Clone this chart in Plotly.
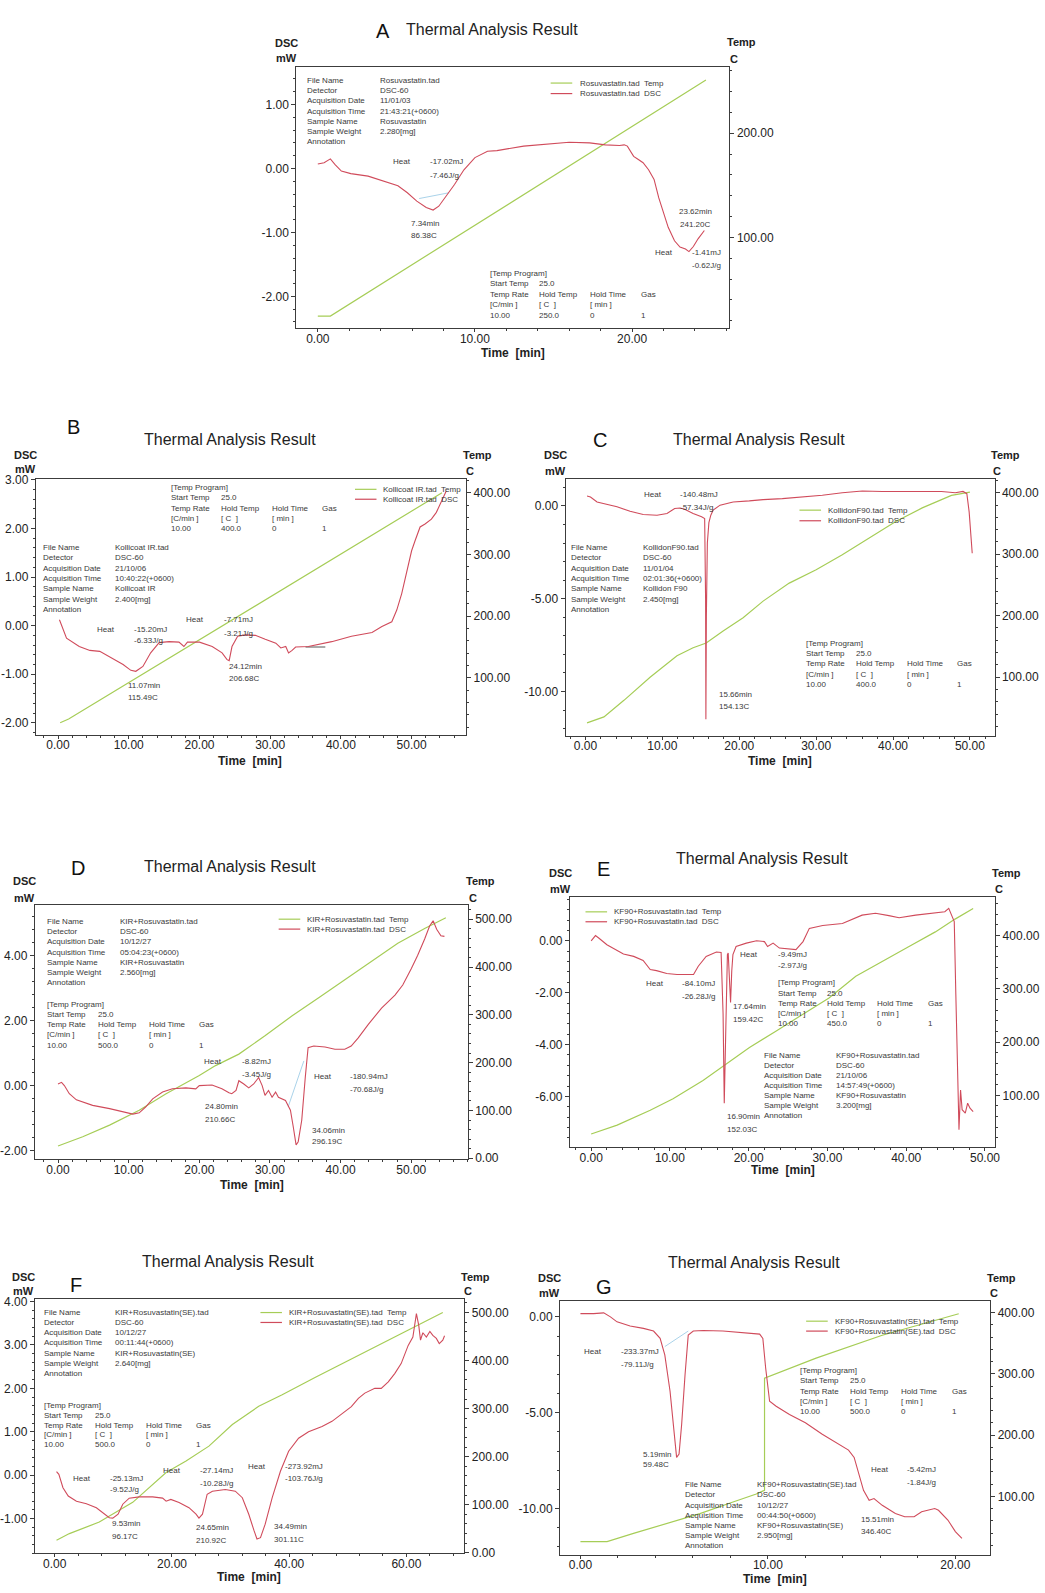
import math
import plotly.graph_objects as go

W, H = 1045, 1593
FONT = "Liberation Sans, Arial, sans-serif"
GREEN = "#a6cd57"
RED = "#d04b5b"
BLUE = "#aad3ea"
AXC = "#3c3c3c"
TXT = "#3a3a3a"

# ---------------- data ----------------
# Panel A: Rosuvastatin
A_time = [0.0, 0.4, 0.8, 1.1, 1.5, 2.1, 3.2, 4.2, 5.1, 5.7, 6.3, 6.9, 7.34, 7.7, 8.1, 8.7, 9.3, 10.0, 10.8, 11.4,
          13.1, 14.7, 16.0, 17.3, 18.3, 19.2, 19.5, 19.7, 19.9, 20.1, 20.4, 20.7, 21.05, 21.4, 21.7, 22.0, 22.3,
          22.7, 23.05, 23.4, 23.62, 23.9, 24.2, 24.6]
A_dsc = [0.07, 0.09, 0.15, 0.06, -0.04, -0.08, -0.12, -0.20, -0.27, -0.38, -0.51, -0.61, -0.65, -0.59, -0.46,
         -0.25, -0.02, 0.17, 0.27, 0.28, 0.35, 0.38, 0.41, 0.40, 0.37, 0.36, 0.37, 0.35, 0.27, 0.19, 0.14, 0.09,
         -0.02, -0.17, -0.46, -0.69, -0.92, -1.13, -1.23, -1.26, -1.30, -1.22, -1.10, -0.97]
A_temp_time = [0.0, 0.8, 24.7]
A_temp = [24.5, 24.5, 251.0]
A_base_time = [6.45, 8.34]
A_base_dsc = [-0.47, -0.38]

# Panel B: Kollicoat IR
B_time = [0.2, 1.2, 3.0, 4.5, 5.9, 7.7, 9.2, 10.3, 11.0, 12.0, 13.1, 14.3, 15.7, 17.1, 17.8, 18.3, 20.0, 21.8,
          23.2, 23.9, 24.2, 24.6, 25.4, 26.5, 27.9, 29.3, 30.8, 31.5, 32.2, 32.6, 33.1, 33.6, 35.4, 38.7, 41.5,
          44.4, 45.8, 47.2, 47.9, 48.6, 49.1, 50.0, 50.5, 51.2, 51.9, 52.8, 53.5, 54.2, 54.9]
B_dsc = [0.12, -0.26, -0.43, -0.51, -0.53, -0.67, -0.80, -0.92, -0.94, -0.84, -0.56, -0.35, -0.33, -0.34, -0.43,
         -0.34, -0.34, -0.43, -0.56, -0.70, -0.72, -0.43, -0.22, -0.19, -0.20, -0.28, -0.36, -0.46, -0.43, -0.56,
         -0.51, -0.44, -0.43, -0.33, -0.22, -0.14, -0.02, 0.08, 0.32, 0.66, 1.00, 1.54, 1.75, 2.03, 2.09, 2.19,
         2.33, 2.56, 2.77]
B_temp_time = [0.3, 1.5, 54.3]
B_temp = [27.0, 33.0, 400.0]
B_mark_time = [35.0, 37.8]
B_mark_dsc = [-0.44, -0.44]

# Panel C: Kollidon F90
C_time = [0.2, 0.65, 1.5, 2.4, 4.1, 5.8, 7.5, 9.3, 10.6, 11.6, 12.3, 12.9, 14.0, 15.1, 15.5, 15.62, 15.66, 15.72,
          15.85, 16.05, 16.3, 16.6, 17.5, 19.2, 21.3, 23.1, 25.6, 28.2, 30.8, 33.4, 36.0, 38.6, 41.2, 43.8, 46.3,
          48.1, 49.1, 49.6, 49.9, 50.3]
C_dsc = [0.53, 0.48, 0.21, 0.12, -0.05, -0.29, -0.46, -0.50, -0.41, -0.14, -0.11, -0.18, -0.41, -0.59, -0.68,
         -5.0, -11.5, -6.0, -2.0, -0.9, -0.5, -0.23, 0.04, 0.21, 0.27, 0.34, 0.39, 0.48, 0.57, 0.71, 0.80, 0.78,
         0.78, 0.80, 0.78, 0.71, 0.78, 0.66, -0.32, -2.55]
C_temp_time = [0.2, 2.4, 5.0, 8.4, 11.9, 14.0, 15.7, 17.9, 20.5, 23.1, 26.5, 30.0, 33.4, 36.9, 40.3, 43.8, 47.6, 50.0]
C_temp = [25.8, 35.5, 62.4, 100.0, 135.0, 148.0, 155.5, 175.3, 196.8, 223.7, 253.0, 274.8, 299.0, 325.8, 352.7,
          375.3, 395.6, 401.0]

# Panel D: KIR + Rosuvastatin
D_time = [0.0, 0.5, 0.9, 1.6, 2.6, 4.9, 7.3, 9.2, 10.6, 11.5, 12.4, 13.4, 14.8, 16.2, 18.1, 19.5, 20.0, 21.8, 23.2,
          24.2, 24.6, 25.2, 25.6, 26.3, 27.0, 27.7, 28.4, 28.9, 29.3, 29.8, 30.3, 30.8, 31.2, 32.2, 32.9, 33.3,
          33.7, 34.0, 34.5, 35.0, 35.4, 36.2, 37.8, 39.2, 40.6, 41.5, 42.5, 43.9, 45.8, 47.7, 48.8, 50.0, 50.9,
          51.9, 52.6, 53.1, 53.6, 54.2, 54.7]
D_dsc = [0.05, 0.10, 0.00, -0.25, -0.44, -0.61, -0.71, -0.81, -0.88, -0.84, -0.66, -0.41, -0.20, -0.10, -0.07,
         -0.10, 0.00, 0.02, -0.10, -0.22, -0.25, -0.15, 0.15, 0.05, -0.07, 0.05, 0.25, 0.00, -0.30, -0.15, -0.36,
         -0.20, -0.36, -0.46, -0.76, -1.27, -1.83, -1.73, -1.07, 0.25, 1.17, 1.22, 1.19, 1.12, 1.12, 1.22, 1.47,
         1.88, 2.39, 2.79, 3.10, 3.60, 4.01, 4.52, 4.92, 5.08, 4.82, 4.62, 4.60]
D_temp_time = [0.0, 3.5, 7.3, 11.5, 15.3, 20.0, 22.3, 25.6, 29.3, 33.1, 36.9, 40.6, 44.4, 48.1, 51.9, 54.9]
D_temp = [25.7, 45.0, 69.3, 100.4, 135.0, 173.0, 193.8, 217.8, 256.0, 297.5, 335.5, 373.4, 411.6, 449.6, 480.7, 502.9]
D_base_time = [32.6, 34.8]
D_base_dsc = [-0.64, 0.76]

# Panel E: KF90 + Rosuvastatin
E_time = [0.0, 0.55, 1.0, 2.0, 4.1, 5.4, 6.6, 7.5, 8.3, 9.6, 10.9, 13.0, 13.6, 14.6, 15.9, 16.5, 16.75, 16.9, 17.1,
          17.3, 17.4, 17.6, 17.7, 17.85, 18.0, 18.4, 19.7, 21.0, 22.0, 22.4, 23.1, 23.9, 25.2, 26.0, 26.9, 27.7,
          29.4, 31.9, 34.4, 36.1, 37.8, 39.1, 41.2, 43.3, 44.9, 45.4, 45.8, 46.1, 46.3, 46.5, 46.7, 46.9, 47.1,
          47.5, 47.8, 48.1, 48.5]
E_dsc = [0.0, 0.20, 0.10, -0.15, -0.51, -0.60, -0.76, -1.11, -1.15, -1.26, -1.30, -1.30, -0.98, -0.60, -0.43,
         -0.45, -2.82, -6.26, -3.33, -0.53, -0.47, -1.80, -2.38, -1.17, -0.53, -0.22, -0.09, 0.0, -0.03, -0.22,
         -0.09, -0.28, -0.31, -0.34, -0.03, 0.48, 0.59, 0.67, 0.99, 1.06, 0.97, 0.89, 0.99, 1.06, 1.12, 1.25, 0.97,
         0.74, -2.06, -4.60, -7.28, -5.75, -6.51, -6.64, -6.26, -6.45, -6.58]
E_temp_time = [0.0, 3.3, 7.5, 10.4, 14.2, 16.8, 20.1, 23.5, 26.9, 30.2, 33.6, 37.0, 40.3, 43.7, 46.2, 48.5]
E_temp = [27.4, 44.0, 72.0, 93.7, 128.0, 156.0, 190.0, 221.0, 252.0, 283.0, 323.5, 351.0, 379.0, 407.0, 431.0, 451.0]

# Panel F: KIR + Rosuvastatin (SE)
F_time = [0.3, 0.7, 1.4, 2.3, 3.7, 5.4, 7.1, 8.2, 9.3, 9.9, 10.8, 11.6, 12.7, 14.4, 16.7, 18.4, 19.0, 19.8, 21.2,
          22.9, 24.1, 24.6, 25.2, 26.0, 26.9, 29.1, 30.8, 32.0, 33.1, 34.0, 34.5, 35.1, 35.9, 37.1, 38.5, 39.9,
          41.6, 43.3, 45.6, 47.3, 49.5, 50.6, 51.8, 52.9, 54.6, 55.7, 56.9, 58.0, 59.1, 60.3, 61.1, 61.7, 62.1,
          62.4, 62.8, 63.4, 64.0, 64.5, 65.1, 65.6, 66.2, 66.5]
F_dsc = [0.08, 0.02, -0.29, -0.48, -0.60, -0.66, -0.75, -0.86, -0.98, -0.99, -0.90, -0.67, -0.53, -0.50, -0.50,
         -0.53, -0.60, -0.56, -0.63, -0.75, -0.90, -0.99, -0.90, -0.44, -0.37, -0.33, -0.37, -0.52, -0.90, -1.28,
         -1.47, -1.44, -1.13, -0.52, 0.09, 0.55, 0.85, 1.00, 1.12, 1.24, 1.47, 1.58, 1.77, 1.89, 2.00, 2.00, 2.15,
         2.34, 2.57, 2.99, 3.18, 3.72, 3.45, 3.11, 3.28, 3.18, 3.31, 3.22, 3.15, 3.03, 3.11, 3.21]
F_temp_time = [0.3, 2.5, 7.6, 13.3, 19.0, 22.4, 26.3, 30.3, 34.8, 38.8, 44.4, 50.1, 55.7, 61.4, 66.2]
F_temp = [26.0, 40.0, 64.0, 105.0, 167.0, 191.0, 222.0, 267.0, 305.0, 329.0, 365.0, 400.0, 435.0, 470.0, 500.0]

# Panel G: KF90 + Rosuvastatin (SE)
G_time = [0.0, 0.7, 1.24, 1.6, 1.95, 2.65, 3.36, 3.9, 4.25, 4.5, 4.78, 5.0, 5.13, 5.26, 5.4, 5.58, 5.75, 6.02, 6.55,
          7.6, 8.67, 9.56, 9.73, 9.88, 10.09, 10.44, 11.15, 12.0, 12.9, 13.6, 14.3, 14.6, 14.9, 15.1, 15.4, 15.66,
          16.1, 16.8, 17.3, 17.8, 18.2, 18.9, 19.1, 19.4, 19.6, 20.0, 20.35]
G_dsc = [0.17, 0.17, 0.21, 0.0, -0.26, -0.48, -0.60, -0.74, -1.12, -1.98, -3.88, -5.95, -7.33, -7.16, -5.60, -3.02,
         -0.95, -0.74, -0.71, -0.74, -0.81, -0.90, -1.12, -2.67, -4.40, -4.66, -5.09, -5.52, -6.12, -6.55, -6.95,
         -7.33, -8.36, -9.05, -9.57, -9.48, -9.83, -10.26, -10.43, -10.43, -10.17, -10.0, -10.09, -10.43, -10.60,
         -11.20, -11.55]
G_temp_time = [0.0, 1.42, 2.83, 4.6, 6.37, 8.14, 9.38, 9.82, 9.82, 12.57, 16.1, 20.18]
G_temp = [26.2, 26.2, 39.6, 55.8, 72.0, 91.0, 104.0, 110.0, 293.0, 325.6, 363.0, 398.0]
G_base_time = [4.5, 5.75]
G_base_dsc = [-1.55, -0.74]

# text content
INFO_KEYS = ["File Name", "Detector", "Acquisition Date", "Acquisition Time", "Sample Name", "Sample Weight",
             "Annotation"]
A_info = ["Rosuvastatin.tad", "DSC-60", "11/01/03", "21:43:21(+0600)", "Rosuvastatin", "2.280[mg]", ""]
B_info = ["Kollicoat IR.tad", "DSC-60", "21/10/06", "10:40:22(+0600)", "Kollicoat IR", "2.400[mg]", ""]
C_info = ["KollidonF90.tad", "DSC-60", "11/01/04", "02:01:36(+0600)", "Kollidon F90", "2.450[mg]", ""]
D_info = ["KIR+Rosuvastatin.tad", "DSC-60", "10/12/27", "05:04:23(+0600)", "KIR+Rosuvastatin", "2.560[mg]", ""]
E_info = ["KF90+Rosuvastatin.tad", "DSC-60", "21/10/06", "14:57:49(+0600)", "KF90+Rosuvastatin", "3.200[mg]", ""]
F_info = ["KIR+Rosuvastatin(SE).tad", "DSC-60", "10/12/27", "00:11:44(+0600)", "KIR+Rosuvastatin(SE)",
          "2.640[mg]", ""]
G_info = ["KF90+Rosuvastatin(SE).tad", "DSC-60", "10/12/27", "00:44:50(+0600)", "KF90+Rosuvastatin(SE)",
          "2.950[mg]", ""]
HOLD_TEMPS = {"A": "250.0", "B": "400.0", "C": "400.0", "D": "500.0", "E": "450.0", "F": "500.0", "G": "500.0"}

# ---------------- layout geometry (pixels) ----------------
PANELS = [
    dict(key="A", box=(297.7, 61, 733, 325), xr=(-1.37, 26.2), yl=(-2.50, 1.595), yr=(12.7, 264), dx=10, dyl=1,
         dsc=(A_time, A_dsc), temp=(A_temp_time, A_temp), base=[(A_base_time, A_base_dsc, BLUE)],
         info=A_info, info_pos=(306.7, 380, 75, 10.3), tp=((490, 540, 591, 641.7), 269.3, 10.7),
         leg=(553.3, 575, 580.7, 77.7, 88.3), name="Rosuvastatin.tad",
         title=(494.5, 24), letter=(385, 25), dsc_lab=(288, 37, 52), temp_lab=(745.3, 36, 737.7, 53.3),
         time_lab=(515, 350),
         peaks=[(393.3, 156.7, "Heat"), (430, 156.7, "-17.02mJ"), (430, 170.7, "-7.46J/g"),
                (410.7, 219.3, "7.34min"), (410.7, 231.7, "86.38C"), (680.7, 207.3, "23.62min"),
                (681.7, 220, "241.20C"), (656, 248.3, "Heat"), (693.3, 248.3, "-1.41mJ"),
                (693.3, 261.7, "-0.62J/g")]),
    dict(key="B", box=(36, 476.7, 468.3, 735), xr=(-3.14, 57.7), yl=(-2.25, 3.02), yr=(7.2, 422.5), dx=10, dyl=1,
         dsc=(B_time, B_dsc), temp=(B_temp_time, B_temp), base=[(B_mark_time, B_mark_dsc, "#555555")],
         info=B_info, info_pos=(40.7, 114, 546, 10.4), tp=((170, 220, 271.7, 321.7), 485.7, 10.25),
         leg=(356.7, 378.3, 383.3, 487.3, 497.3), name="Kollicoat IR.tad",
         title=(230.8, 437.3), letter=(74, 424), dsc_lab=(25.7, 452.7, 467), temp_lab=(480, 452.7, 472.7, 469),
         time_lab=(251.7, 761.5),
         peaks=[(95.7, 628.7, "Heat"), (132.3, 628.7, "-15.20mJ"), (132.3, 640, "-6.33J/g"), (185, 619, "Heat"),
                (222.7, 619, "-7.71mJ"), (222.7, 632.7, "-3.21J/g"), (126.7, 685, "11.07min"),
                (126.7, 696.7, "115.49C"), (228, 665.7, "24.12min"), (228, 677.7, "206.68C")]),
    dict(key="C", box=(568.3, 476.7, 999.3, 736), xr=(-2.59, 53.2), yl=(-12.4, 1.46), yr=(4.4, 422.6), dx=10, dyl=5,
         dsc=(C_time, C_dsc), temp=(C_temp_time, C_temp), base=[],
         info=C_info, info_pos=(571.7, 644, 546, 10.4), tp=((808.3, 858.3, 909.3, 960), 642.7, 10.3),
         leg=(803.3, 825, 830, 508.3, 519), name="KollidonF90.tad",
         title=(762.3, 437.3), letter=(603.3, 437.3), dsc_lab=(558.3, 452.7, 469),
         temp_lab=(1010, 452.7, 1001.7, 469), time_lab=(783.3, 761.5),
         peaks=[(645, 492.7, "Heat"), (681, 492.7, "-140.48mJ"), (681, 506, "-57.34J/g"), (720, 694, "15.66min"),
                (720, 706.7, "154.13C")]),
    dict(key="D", box=(35, 906, 470, 1162.7), xr=(-3.28, 58), yl=(-2.27, 5.58), yr=(-2, 530.5), dx=10, dyl=2,
         dsc=(D_time, D_dsc), temp=(D_temp_time, D_temp), base=[(D_base_time, D_base_dsc, BLUE)],
         info=D_info, info_pos=(45.7, 119, 923.3, 10.2), tp=((45.7, 96.7, 147.7, 198.3), 1006.7, 10.25),
         leg=(280, 301.7, 306.7, 920.7, 930.7), name="KIR+Rosuvastatin.tad",
         title=(230.8, 867.3), letter=(78.3, 869.3), dsc_lab=(25, 882.7, 899), temp_lab=(482.7, 882.7, 475, 899),
         time_lab=(253.3, 1188.5),
         peaks=[(203.3, 1064, "Heat"), (240.7, 1064, "-8.82mJ"), (240.7, 1077.3, "-3.45J/g"),
                (313.3, 1079.3, "Heat"), (350, 1079.3, "-180.94mJ"), (350, 1092.7, "-70.68J/g"),
                (204, 1110, "24.80min"), (204, 1122.3, "210.66C"), (311.7, 1133.3, "34.06min"),
                (311.7, 1145, "296.19C")]),
    dict(key="E", box=(572.7, 898.3, 1000, 1150.7), xr=(-2.69, 51.3), yl=(-7.96, 1.69), yr=(2.4, 472.6), dx=10,
         dyl=2, dsc=(E_time, E_dsc), temp=(E_temp_time, E_temp), base=[],
         info=E_info, info_pos=(766, 837.7, 1058.3, 10.1), tp=((779.3, 829.3, 879.3, 930), 985, 10.2),
         leg=(588.3, 610, 615, 913.3, 923.3), name="KF90+Rosuvastatin.tad",
         title=(765.7, 859.3), letter=(606.7, 870), dsc_lab=(562.7, 874.3, 890), temp_lab=(1011.7, 874.3, 1004, 890),
         time_lab=(786.7, 1174),
         peaks=[(646.7, 986, "Heat"), (683.3, 986, "-84.10mJ"), (683.3, 999, "-26.28J/g"), (741.7, 956, "Heat"),
                (780, 956, "-9.49mJ"), (780, 967.7, "-2.97J/g"), (735, 1008.3, "17.64min"),
                (735, 1021.7, "159.42C"), (728.3, 1120, "16.90min"), (728.3, 1132.7, "152.03C")]),
    dict(key="F", box=(35, 1304, 466.7, 1560), xr=(-3.4, 69.9), yl=(-1.8, 4.05), yr=(-1, 527.5), dx=20, dyl=1,
         dsc=(F_time, F_dsc), temp=(F_temp_time, F_temp), base=[],
         info=F_info, info_pos=(42.3, 114, 1317.3, 10.2), tp=((42.3, 93.3, 144.3, 195), 1411, 9.9),
         leg=(261.7, 283.3, 288.3, 1317.3, 1327.3), name="KIR+Rosuvastatin(SE).tad",
         title=(229, 1266), letter=(76, 1289.3), dsc_lab=(23.3, 1281.7, 1296), temp_lab=(477.3, 1281.7, 470, 1296),
         time_lab=(250, 1584),
         peaks=[(71, 1484.3, "Heat"), (109, 1484.3, "-25.13mJ"), (109, 1496, "-9.52J/g"), (161.7, 1476.7, "Heat"),
                (199, 1476.7, "-27.14mJ"), (199, 1489.3, "-10.28J/g"), (246.7, 1472.3, "Heat"),
                (284.3, 1472.3, "-273.92mJ"), (284.3, 1485, "-103.76J/g"), (111, 1530, "9.53min"),
                (111, 1543.3, "96.17C"), (195, 1534, "24.65min"), (195, 1546.7, "210.92C"),
                (273.3, 1533.3, "34.49min"), (273.3, 1546, "301.11C")]),
    dict(key="G", box=(562.7, 1306, 995, 1561.7), xr=(-1.09, 21.86), yl=(-12.42, 0.81), yr=(4.5, 418.3), dx=10,
         dyl=5, dsc=(G_time, G_dsc), temp=(G_temp_time, G_temp), base=[(G_base_time, G_base_dsc, BLUE)],
         info=G_info, info_pos=(686, 758.3, 1491, 10.2), tp=((801.7, 852.3, 903.3, 955), 1376, 10.3),
         leg=(810, 831.7, 836.7, 1326, 1336), name="KF90+Rosuvastatin(SE).tad",
         title=(757.3, 1267.3), letter=(607.3, 1291.7), dsc_lab=(551.7, 1282.7, 1297.3),
         temp_lab=(1006.7, 1282.7, 999, 1297.3), time_lab=(778.3, 1585.5),
         peaks=[(584.3, 1356.7, "Heat"), (621.7, 1356.7, "-233.37mJ"), (621.7, 1369.3, "-79.11J/g"),
                (644, 1460, "5.19min"), (644, 1470.7, "59.48C"), (872.7, 1475.7, "Heat"),
                (909.3, 1475.7, "-5.42mJ"), (909.3, 1488.3, "-1.84J/g"), (863.3, 1526, "15.51min"),
                (863.3, 1538.3, "346.40C")]),
]

fig = go.Figure()
layout = {}
ann = []
shapes = []


def T(px, py, s, size=8, xa="left", color=TXT, bold=False):
    ann.append(dict(x=px / W, y=1 - py / H, xref="paper", yref="paper",
                    text=("<b>%s</b>" % s) if bold else s, showarrow=False,
                    xanchor=xa, yanchor="middle", font=dict(family=FONT, size=size, color=color)))


def ticks_for(rng, step):
    lo, hi = rng
    k0 = math.ceil(lo / step - 1e-9)
    k1 = math.floor(hi / step + 1e-9)
    vals = [k * step for k in range(k0, k1 + 1)]
    return vals, ["%.2f" % v for v in vals]


tickfont = dict(family=FONT, size=12, color="#222222")

for i, p in enumerate(PANELS, start=1):
    l, t, r, b = p["box"]
    xd = [l / W, r / W]
    yd = [1 - b / H, 1 - t / H]
    xn = "x" if i == 1 else "x%d" % i
    tnum, dnum = 2 * i - 1, 2 * i
    tn = "y" if tnum == 1 else "y%d" % tnum
    dn = "y%d" % dnum
    xkey = "xaxis" if i == 1 else "xaxis%d" % i
    tkey = "yaxis" if tnum == 1 else "yaxis%d" % tnum
    dkey = "yaxis%d" % dnum
    common = dict(showline=True, linecolor=AXC, linewidth=1, showgrid=False, zeroline=False,
                  ticks="outside", ticklen=4, tickcolor=AXC, tickfont=tickfont)
    xv, xt = ticks_for(p["xr"], p["dx"])
    rv, rt = ticks_for(p["yr"], 100)
    lv, lt = ticks_for(p["yl"], p["dyl"])
    layout[xkey] = dict(common, domain=xd, range=list(p["xr"]), anchor=tn, tickvals=xv, ticktext=xt, mirror=True,
                        ticklen=3, ticklabelstandoff=-4,
                        minor=dict(ticks="outside", ticklen=2, tickcolor=AXC, tick0=0, dtick=p["dx"] / 5))
    layout[tkey] = dict(common, domain=yd, range=list(p["yr"]), anchor=xn, side="right", tickvals=rv, ticktext=rt,
                        minor=dict(ticks="outside", ticklen=2, tickcolor=AXC, tick0=0, dtick=20))
    layout[dkey] = dict(common, domain=yd, range=list(p["yl"]), anchor=xn, side="left", overlaying=tn,
                        tickvals=lv, ticktext=lt,
                        minor=dict(ticks="outside", ticklen=2, tickcolor=AXC, tick0=0, dtick=p["dyl"] / 5))

    tx, ty = p["temp"]
    fig.add_trace(go.Scatter(x=tx, y=ty, mode="lines", line=dict(color=GREEN, width=1.2),
                             xaxis=xn, yaxis=tn, showlegend=False, hoverinfo="skip"))
    for bx, by, bc in p["base"]:
        fig.add_trace(go.Scatter(x=bx, y=by, mode="lines", line=dict(color=bc, width=1),
                                 xaxis=xn, yaxis=dn, showlegend=False, hoverinfo="skip"))
    dx_, dy_ = p["dsc"]
    fig.add_trace(go.Scatter(x=dx_, y=dy_, mode="lines", line=dict(color=RED, width=1.1),
                             xaxis=xn, yaxis=dn, showlegend=False, hoverinfo="skip"))

    # headers
    T(p["title"][0], p["title"][1], "Thermal Analysis Result", size=16, xa="center", color="#222222")
    T(p["letter"][0], p["letter"][1], p["key"], size=20, xa="center", color="#111111")
    T(p["dsc_lab"][0], p["dsc_lab"][1], "DSC", size=11, xa="center", color="#222222", bold=True)
    T(p["dsc_lab"][0], p["dsc_lab"][2], "mW", size=11, xa="center", color="#222222", bold=True)
    T(p["temp_lab"][0], p["temp_lab"][1], "Temp", size=11, xa="center", color="#222222", bold=True)
    T(p["temp_lab"][2], p["temp_lab"][3], "C", size=11, xa="center", color="#222222", bold=True)
    T(p["time_lab"][0], p["time_lab"][1], "Time  [min]", size=12, xa="center", color="#222222", bold=True)

    # info block
    x1, x2, y0, dy = p["info_pos"]
    for k, (key, val) in enumerate(zip(INFO_KEYS, p["info"])):
        T(x1, y0 + k * dy, key)
        if val:
            T(x2, y0 + k * dy, val)

    # temp program block
    cols, ty0, tdy = p["tp"]
    T(cols[0], ty0, "[Temp Program]")
    T(cols[0], ty0 + tdy, "Start Temp")
    T(cols[1], ty0 + tdy, "25.0")
    for c, s in zip(cols, ["Temp Rate", "Hold Temp", "Hold Time", "Gas"]):
        T(c, ty0 + 2 * tdy, s)
    for c, s in zip(cols, ["[C/min ]", "[ C  ]", "[ min ]"]):
        T(c, ty0 + 3 * tdy, s)
    for c, s in zip(cols, ["10.00", HOLD_TEMPS[p["key"]], "0", "1"]):
        T(c, ty0 + 4 * tdy, s)

    # legend
    lx0, lx1, ltx, yg, yrd = p["leg"]
    shapes.append(dict(type="line", xref="paper", yref="paper", x0=lx0 / W, x1=lx1 / W,
                       y0=1 - yg / H, y1=1 - yg / H, line=dict(color=GREEN, width=1.2)))
    shapes.append(dict(type="line", xref="paper", yref="paper", x0=lx0 / W, x1=lx1 / W,
                       y0=1 - yrd / H, y1=1 - yrd / H, line=dict(color=RED, width=1.2)))
    T(ltx, yg, p["name"] + "  Temp")
    T(ltx, yrd, p["name"] + "  DSC")

    for px, py, s in p["peaks"]:
        T(px, py, s)

fig.update_layout(width=W, height=H, margin=dict(l=0, r=0, t=0, b=0), paper_bgcolor="white",
                  plot_bgcolor="white", showlegend=False, annotations=ann, shapes=shapes,
                  font=dict(family=FONT), **layout)
fig.write_html("out.html", config={"displayModeBar": False},
               post_script="document.body.style.margin='0';")
